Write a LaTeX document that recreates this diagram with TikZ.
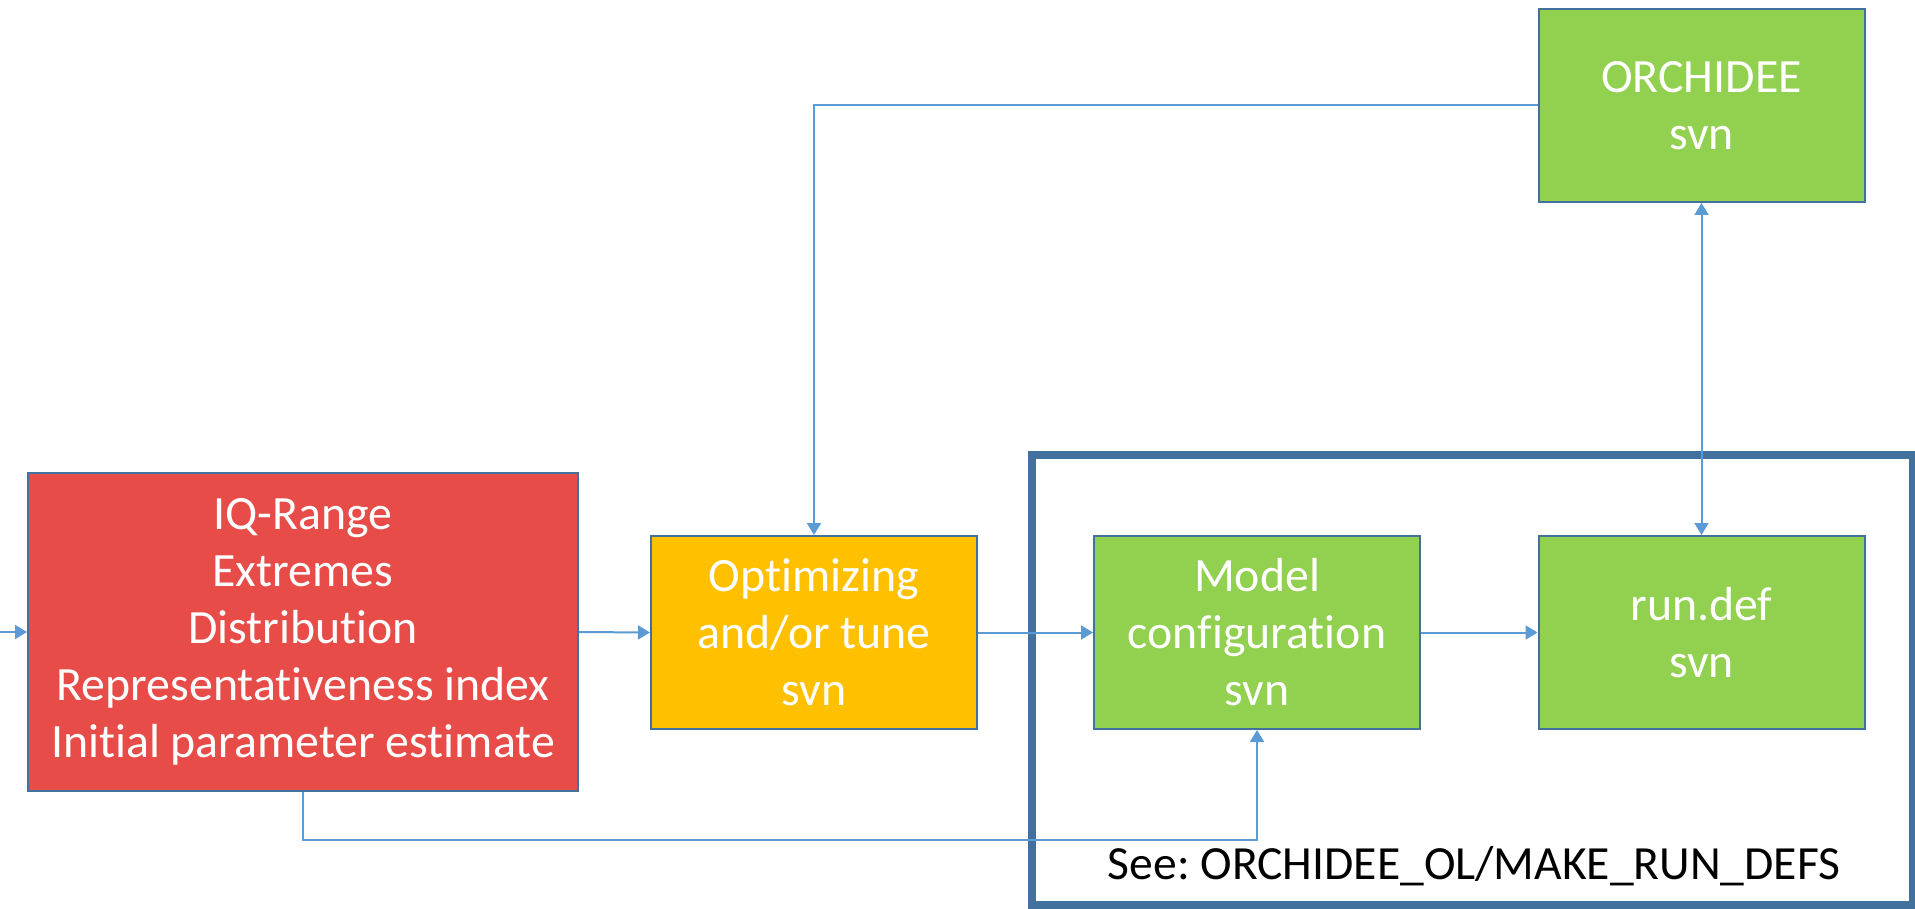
\documentclass[tikz,border=0pt]{standalone}
\usepackage{fontspec}
\setmainfont[Ligatures=NoCommon]{Carlito}
\usetikzlibrary{arrows.meta}
\definecolor{redfill}{HTML}{E84C48}
\definecolor{orangefill}{HTML}{FFC000}
\definecolor{greenfill}{HTML}{92D050}
\definecolor{boxline}{HTML}{41719C}
\definecolor{framecol}{HTML}{41719C}
\definecolor{conncol}{HTML}{5B9BD5}
\frenchspacing
\tikzset{
  box/.style={draw=boxline, line width=1pt, align=center, text=white,
    font=\fontsize{23.9}{28.5}\selectfont, inner sep=0pt},
  widebox/.style={box, minimum width=275pt, minimum height=159pt},
  stdbox/.style={box, minimum width=163pt, minimum height=96.5pt},
  tip/.style={Triangle[width=7pt,length=6pt]},
  conn/.style={draw=conncol, line width=1pt, -{Triangle[width=7pt,length=6pt]}},
  frame/.style={draw=framecol, line width=4pt},
  note/.style={font=\fontsize{23.8}{28}\selectfont, text=black, inner sep=0pt}
}
\begin{document}
\begin{tikzpicture}[x=0.5pt,y=-0.5pt]
\useasboundingbox (0,0) rectangle (1915,909);
\draw[frame] (1032,455) rectangle (1913,905);
\node[widebox, fill=redfill] (stats) at (303,632) {IQ-Range\\Extremes\\Distribution\\Representativeness index\\Initial parameter estimate};
\node[stdbox, fill=orangefill] (opt) at (814,632.5) {Optimizing\\and/or tune\\svn};
\node[stdbox, fill=greenfill] (model) at (1257,632.5) {Model\\configuration\\svn};
\node[stdbox, fill=greenfill] (rundef) at (1701.5,632.5) {run.def\\svn};
\node[stdbox, fill=greenfill] (orch) at (1701.5,105.5) {ORCHIDEE\\svn};
\node[note, anchor=base] (see) at (1474,879) {See: ORCHIDEE\_OL/MAKE\_RUN\_DEFS};
\coordinate (start) at (0,632);
\draw[conn] (start) -- (stats.west);
\draw[conn] (stats.east) -- (opt.west);
\draw[conn] (opt.east) -- (model.west);
\draw[conn] (model.east) -- (rundef.west);
\draw[conn, {Triangle[width=7pt,length=6pt]}-{Triangle[width=7pt,length=6pt]}] (orch.south) -- (rundef.north);
\draw[conn] (orch.west) -| (opt.north);
\draw[conn] (stats.south) -- ++(0,48) -| (model.south);
\end{tikzpicture}
\end{document}
